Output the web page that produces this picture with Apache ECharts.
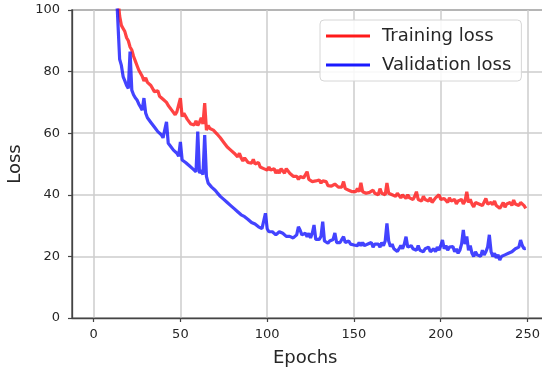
<!DOCTYPE html>
<html>
<head>
<meta charset="utf-8">
<script src="https://cdn.jsdelivr.net/npm/echarts@6/dist/echarts.min.js"></script>
<style>
html,body{margin:0;padding:0;background:#fff;}
#chart{width:542px;height:373px;}
</style>
</head>
<body>
<div id="chart"></div>
<script>
// ---- data ----
const xTicks = [0, 50, 100, 150, 200, 250];
const yTicks = [0, 20, 40, 60, 80, 100];
const seriesNames = ['Training loss', 'Validation loss'];

const trainStartEpoch = 13;
const trainLoss = [
  112, 104, 98, 95, 94, 93, 91, 90, 88, 87,
  85, 83.5, 82, 80.5, 80, 78.5, 77, 78, 76.5, 76,
  75.5, 75, 73.5, 74, 73.8, 72, 72.5, 71, 71.5, 70,
  69, 68.5, 67.5, 68, 66, 67, 66.5, 71.4, 65.4, 66.5,
  66, 64.5, 65, 63, 63.5, 62.7, 64, 62.5, 63.5, 65,
  63, 69.8, 61, 62.5, 61.5, 62, 61, 60.5, 59.8, 60,
  58.5, 59, 57, 56.5, 55.5, 56, 54.5, 55, 53.5, 53,
  52.3, 53.5, 52, 51, 52, 51.5, 50.5, 51, 50.3, 51.5,
  50, 49.5, 50.5, 49, 49.5, 48.5, 49, 48, 49, 48,
  47.5, 48.5, 47, 48, 47, 48.5, 48, 47, 48.5, 49,
  47, 46.5, 46, 45.5, 46, 45, 45.9, 46, 45.5, 46,
  47.5, 45, 45, 44.3, 44.8, 44.5, 44, 44.8, 43.8, 44.5,
  44, 44.3, 43, 43.5, 42.8, 42.6, 43.5, 43, 42.5, 43,
  42.5, 44.3, 42, 42.5, 41.5, 42, 41, 41.6, 41, 42,
  41, 43.9, 41, 41.5, 40.5, 41, 40.8, 40.5, 41.5, 40.5,
  41, 40, 42, 40.5, 41, 40, 43.8, 40.5, 41, 40,
  40.5, 39.5, 40.5, 40, 39, 40, 39.5, 38.8, 40, 39,
  39.5, 38.5, 39.5, 41, 38.5, 39, 38, 39.5, 38.5, 39,
  38, 39, 37.5, 37.8, 39, 38.5, 40, 38.5, 38, 38.8,
  38.3, 37.5, 39, 38, 37.5, 38.5, 37, 38, 37.5, 38.5,
  37, 38, 41, 37.5, 38.5, 37, 36.1, 37.5, 38, 37,
  37.5, 36.5, 37, 38.8, 37, 36.5, 37.5, 36.8, 38, 36.5,
  37, 35.6, 36.5, 37.5, 36, 37, 36.8, 37.5, 36.5, 38.3,
  37, 37.5, 36.5, 37.5, 38, 36.5, 35.6
];

const valStartEpoch = 12;
const valLoss = [
  120, 108, 96, 84, 82, 78.4, 77, 75.5, 74.5, 86.5,
  74, 72.5, 71.5, 70.8, 69.5, 68.5, 67.5, 71.4, 66.5, 65,
  64.5, 63.5, 63, 62, 61.5, 60.5, 60, 59.5, 58.5, 58,
  63.7, 56.7, 56, 55.5, 54.5, 54, 53.5, 52.5, 57.2, 51.3,
  51, 50.5, 50, 49.5, 49, 48.5, 49, 47.5, 60.5, 47,
  48, 46.5, 59.4, 46, 43.8, 43.5, 42.5, 42, 41.5, 40.8,
  40.6, 39.5, 39, 38.5, 38, 37.5, 37, 36.5, 36.1, 35.5,
  35, 34.5, 34, 33.5, 33.5, 32.9, 32.5, 32, 31.5, 31,
  31, 30.5, 30, 29.6, 29.5, 29, 28.5, 34, 29, 28,
  27.6, 28, 27.5, 27, 27.5, 28, 28.6, 27.5, 27, 26.5,
  27, 26.5, 26.4, 26, 26.5, 27, 29.6, 28.5, 27, 26.5,
  27.5, 26.4, 27.5, 26, 27.5, 30.2, 25.5, 26, 25.5, 26.5,
  31.3, 25, 25.5, 24.3, 25, 24.5, 25.5, 27.6, 24.5, 25,
  24.5, 25.5, 26.4, 24.5, 24, 25, 24, 24.5, 23.7, 24,
  23.5, 24.5, 23.5, 24.5, 23.5, 23.2, 24, 23.5, 24.5, 23,
  24, 23.5, 24, 23, 24.5, 23.5, 25, 30.7, 25, 23.2,
  24, 22.5, 23, 21.6, 22.5, 23.5, 22.5, 24, 26.4, 23,
  22.5, 23.5, 22.5, 23, 22, 23.5, 22, 22.5, 21.5, 22.5,
  22, 23, 21.5, 22, 22.5, 21.5, 23, 22, 23.5, 25.3,
  22.5, 23.5, 22, 23, 22.5, 23.2, 21.5, 22.5, 21, 22,
  24, 28.6, 24, 26.5, 22, 23.5, 21, 20, 21.5, 20.5,
  21, 20, 22, 20.5, 21.5, 23, 27, 21.5, 20, 21,
  19.5, 20.5, 18.8, 20, 19.5, 20.5, 20, 21, 20.5, 21.5,
  21, 22.5, 22, 23, 25.3, 23.5, 22.5, 22.6
];

// ---- build ----
const trainPairs = trainLoss.map((v, i) => [trainStartEpoch + i, v]);
const valPairs = valLoss.map((v, i) => [valStartEpoch + i, v]);

const FONT = 'DejaVu Sans';
const TXT = '#262626';

const chart = echarts.init(document.getElementById('chart'), null, {renderer: 'canvas'});
chart.setOption({
  animation: false,
  backgroundColor: '#ffffff',
  grid: {
    left: 72, top: 10, width: 475.4, height: 308,
    outerBoundsMode: 'none', containLabel: false,
    show: true, borderColor: '#444', borderWidth: 1.3, backgroundColor: 'transparent'
  },
  legend: {
    orient: 'vertical',
    left: 320, top: 20,
    padding: [7, 10, 7, 6],
    itemGap: 11,
    itemWidth: 44, itemHeight: 3,
    icon: 'rect',
    backgroundColor: 'rgba(255,255,255,0.85)',
    borderColor: '#d6d6d6', borderWidth: 1, borderRadius: 4,
    textStyle: {fontFamily: FONT, fontSize: 18, color: TXT, padding: [0, 0, 0, 7]},
    data: seriesNames
  },
  xAxis: {
    type: 'value',
    min: -12.45, max: 261.45,
    name: 'Epochs',
    nameLocation: 'middle',
    nameGap: 31,
    nameTextStyle: {fontFamily: FONT, fontSize: 18, color: TXT, padding: [0, 9, 0, 0]},
    axisLine: {show: true, onZero: false, lineStyle: {color: '#444', width: 1.3}},
    axisTick: {show: true, length: 4, customValues: xTicks, lineStyle: {color: '#444', width: 1.2}},
    axisLabel: {customValues: xTicks, margin: 10, fontFamily: FONT, fontSize: 13, color: TXT},
    splitLine: {show: true, customValues: xTicks, lineStyle: {color: '#cccccc', width: 1.5}}
  },
  yAxis: {
    type: 'value',
    min: 0, max: 100, interval: 20,
    name: 'Loss',
    nameLocation: 'middle',
    nameGap: 45,
    nameTextStyle: {fontFamily: FONT, fontSize: 18, color: TXT},
    axisLine: {show: true, onZero: false, lineStyle: {color: '#444', width: 1.3}},
    axisTick: {show: true, length: 4, lineStyle: {color: '#444', width: 1.2}},
    axisLabel: {margin: 12, fontFamily: FONT, fontSize: 13, color: TXT,
      formatter: v => (yTicks.indexOf(v) >= 0 ? String(v) : '')},
    splitLine: {show: true, lineStyle: {color: '#cccccc', width: 1.5}}
  },
  series: [
    {
      name: seriesNames[0], type: 'line', data: trainPairs,
      showSymbol: false, symbol: 'none', clip: true,
      lineStyle: {color: 'rgba(255,20,20,0.8)', width: 3.2},
      itemStyle: {color: '#ff1a1a'}, z: 3
    },
    {
      name: seriesNames[1], type: 'line', data: valPairs,
      showSymbol: false, symbol: 'none', clip: true,
      lineStyle: {color: 'rgba(20,20,255,0.8)', width: 3.2},
      itemStyle: {color: '#1a1aff'}, z: 4
    }
  ]
});
</script>
</body>
</html>
